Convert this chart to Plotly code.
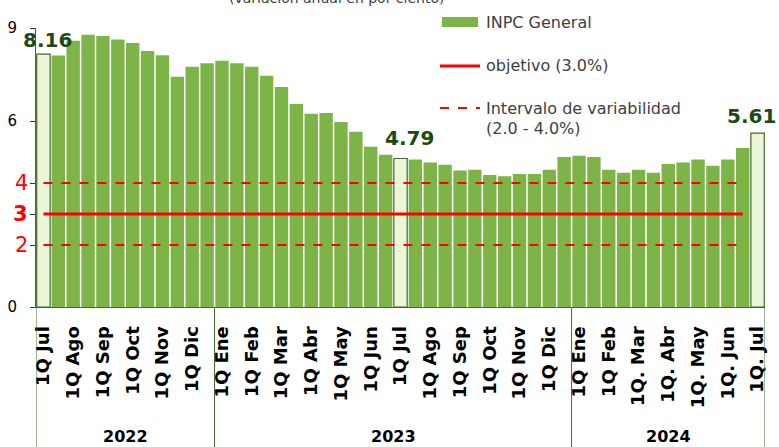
import plotly.graph_objects as go

# ---------------- data ----------------
months = ["Jul", "Ago", "Sep", "Oct", "Nov", "Dic",
          "Ene", "Feb", "Mar", "Abr", "May", "Jun", "Jul", "Ago", "Sep", "Oct", "Nov", "Dic",
          "Ene", "Feb", "Mar", "Abr", "May", "Jun", "Jul"]
month_years = [2022] * 6 + [2023] * 12 + [2024] * 7

tick_labels = ["1Q Jul", "1Q Ago", "1Q Sep", "1Q Oct", "1Q Nov", "1Q Dic",
               "1Q Ene", "1Q Feb", "1Q Mar", "1Q Abr", "1Q May", "1Q Jun",
               "1Q Jul", "1Q Ago", "1Q Sep", "1Q Oct", "1Q Nov", "1Q Dic",
               "1Q Ene", "1Q Feb", "1Q. Mar", "1Q. Abr", "1Q. May", "1Q. Jun", "1Q. Jul"]

inpc = [8.16, 8.11, 8.59, 8.78, 8.74, 8.63, 8.52, 8.26, 8.12, 7.43,
        7.75, 7.86, 7.94, 7.86, 7.75, 7.46, 7.10, 6.55, 6.23, 6.26,
        5.97, 5.65, 5.17, 4.91, 4.79, 4.76, 4.66, 4.59, 4.40, 4.43,
        4.26, 4.22, 4.29, 4.29, 4.43, 4.84, 4.88, 4.84, 4.43, 4.33,
        4.43, 4.33, 4.61, 4.66, 4.76, 4.56, 4.76, 5.13, 5.61]

highlight_idx = [0, 24, 48]
objetivo = 3.0
intervalo_bajo = 2.0
intervalo_alto = 4.0
years = ["2022", "2023", "2024"]

# ---------------- categories ----------------
categories = []
for i, (m, y) in enumerate(zip(months, month_years)):
    categories.append(f"1Q {m} {y}")
    if i < len(months) - 1:
        categories.append(f"2Q {m} {y}")
tick_vals = [c for c in categories if c.startswith("1Q")]

# ---------------- style ----------------
GREEN = "#7cb447"
LIGHT = "#ebf6d8"
DARK_GREEN = "#3f6a2c"
LABEL_GREEN = "#1d4a12"
RED = "#ff0000"
W, H = 779, 447
L, R, T, B = 36, 14, 28, 140
PW, PH = W - L - R, H - T - B


def px2x(px):
    return (px - L) / PW


def px2y(py):
    return (H - B - py) / PH


bar_colors = [LIGHT if i in highlight_idx else GREEN for i in range(len(inpc))]
line_colors = [DARK_GREEN if i in highlight_idx else GREEN for i in range(len(inpc))]
line_widths = [1.2 if i in highlight_idx else 0 for i in range(len(inpc))]

fig = go.Figure()
fig.add_trace(go.Bar(
    x=categories, y=inpc, name="INPC General",
    marker=dict(color=bar_colors, line=dict(color=line_colors, width=line_widths)),
    showlegend=False, hoverinfo="x+y",
))

line_x = [categories[0], categories[-2]]
fig.add_trace(go.Scatter(x=line_x, y=[intervalo_alto] * 2, mode="lines",
                         line=dict(color=RED, width=2, dash="dash"), showlegend=False,
                         name="Intervalo de variabilidad"))
fig.add_trace(go.Scatter(x=line_x, y=[intervalo_bajo] * 2, mode="lines",
                         line=dict(color=RED, width=2, dash="dash"), showlegend=False,
                         name="Intervalo de variabilidad"))
fig.add_trace(go.Scatter(x=line_x, y=[objetivo] * 2, mode="lines",
                         line=dict(color=RED, width=3), showlegend=False,
                         name="objetivo (3.0%)"))

annotations = []
# value labels on highlighted bars
label_shifts = {0: (4, 0), 24: (9, 7), 48: (-6, 3)}
for i in highlight_idx:
    xs, ys = label_shifts[i]
    annotations.append(dict(x=categories[i], y=inpc[i], xref="x", yref="y",
                            text=f"<b>{inpc[i]:.2f}</b>", showarrow=False,
                            yanchor="bottom", xshift=xs, yshift=ys,
                            font=dict(size=20, color=LABEL_GREEN, family="DejaVu Sans")))

# red y labels
for v, txt in [(intervalo_alto, "4"), (objetivo, "<b>3</b>"), (intervalo_bajo, "2")]:
    annotations.append(dict(x=0, y=v, xref="paper", yref="y", text=txt, showarrow=False,
                            xanchor="right", xshift=-6,
                            font=dict(size=21, color=RED, family="DejaVu Sans")))

# year separators and labels
sep_positions = [-0.5, 11.5, 35.5, 48.5]
shapes = []
for s in sep_positions:
    shapes.append(dict(type="line", xref="x", yref="paper", x0=s, x1=s, y0=0, y1=px2y(H),
                       line=dict(color=DARK_GREEN, width=1)))
for yr, a, b in zip(years, sep_positions[:-1], sep_positions[1:]):
    annotations.append(dict(x=(a + b) / 2, y=px2y(448), xref="x", yref="paper",
                            text=f"<b>{yr}</b>", showarrow=False, yanchor="bottom",
                            font=dict(size=16, color="#000000", family="DejaVu Sans")))

# manual legend
LEG_TXT = dict(size=16, color="#404040", family="DejaVu Sans")
shapes.append(dict(type="rect", xref="paper", yref="paper",
                   x0=px2x(442), x1=px2x(478), y0=px2y(27), y1=px2y(17),
                   fillcolor=GREEN, line=dict(width=0)))
shapes.append(dict(type="line", xref="paper", yref="paper",
                   x0=px2x(440), x1=px2x(480), y0=px2y(66), y1=px2y(66),
                   line=dict(color=RED, width=3)))
shapes.append(dict(type="line", xref="paper", yref="paper",
                   x0=px2x(440), x1=px2x(480), y0=px2y(108), y1=px2y(108),
                   line=dict(color=RED, width=2, dash="dash")))
for txt, py in [("INPC General", 22), ("objetivo (3.0%)", 66),
                ("Intervalo de variabilidad", 108), ("(2.0 - 4.0%)", 128)]:
    annotations.append(dict(x=px2x(484), y=px2y(py), xref="paper", yref="paper", text=txt,
                            showarrow=False, xanchor="left", yanchor="middle", font=LEG_TXT))

# clipped title at the top
annotations.append(dict(x=px2x(336), y=px2y(8), xref="paper", yref="paper",
                        text="(variación anual en por ciento)", showarrow=False,
                        yanchor="bottom", font=dict(size=14, color="#404040", family="DejaVu Sans")))

fig.update_layout(
    width=W, height=H, autosize=False,
    margin=dict(l=L, r=R, t=T, b=B, autoexpand=False),
    paper_bgcolor="white", plot_bgcolor="white",
    bargap=0.1,
    shapes=shapes, annotations=annotations,
    font=dict(family="DejaVu Sans", color="#000000"),
)
fig.update_xaxes(
    type="category", categoryorder="array", categoryarray=categories,
    range=[-0.5, len(categories) - 0.5], automargin=False,
    tickvals=tick_vals, ticktext=tick_labels, tickangle=-90,
    tickfont=dict(size=18, color="#000000", family="DejaVu Sans", weight="bold"),
    ticks="", showline=True, linecolor=DARK_GREEN, linewidth=1, showgrid=False,
    ticklabelstandoff=11,
)
fig.update_yaxes(
    range=[0, 9], tickvals=[0, 2, 3, 4, 6, 9], ticktext=["0", "", "", "", "6", "9"],
    ticks="outside", ticklen=5, tickcolor="#333333", automargin=False,
    tickfont=dict(size=15, color="#000000", family="DejaVu Sans"),
    showline=True, linecolor=DARK_GREEN, linewidth=1, showgrid=False, zeroline=False,
    ticklabelstandoff=10,
)

fig.write_html("out.html", config={"displayModeBar": False},
               post_script="document.body.style.margin='0px';document.body.style.overflow='hidden';")
